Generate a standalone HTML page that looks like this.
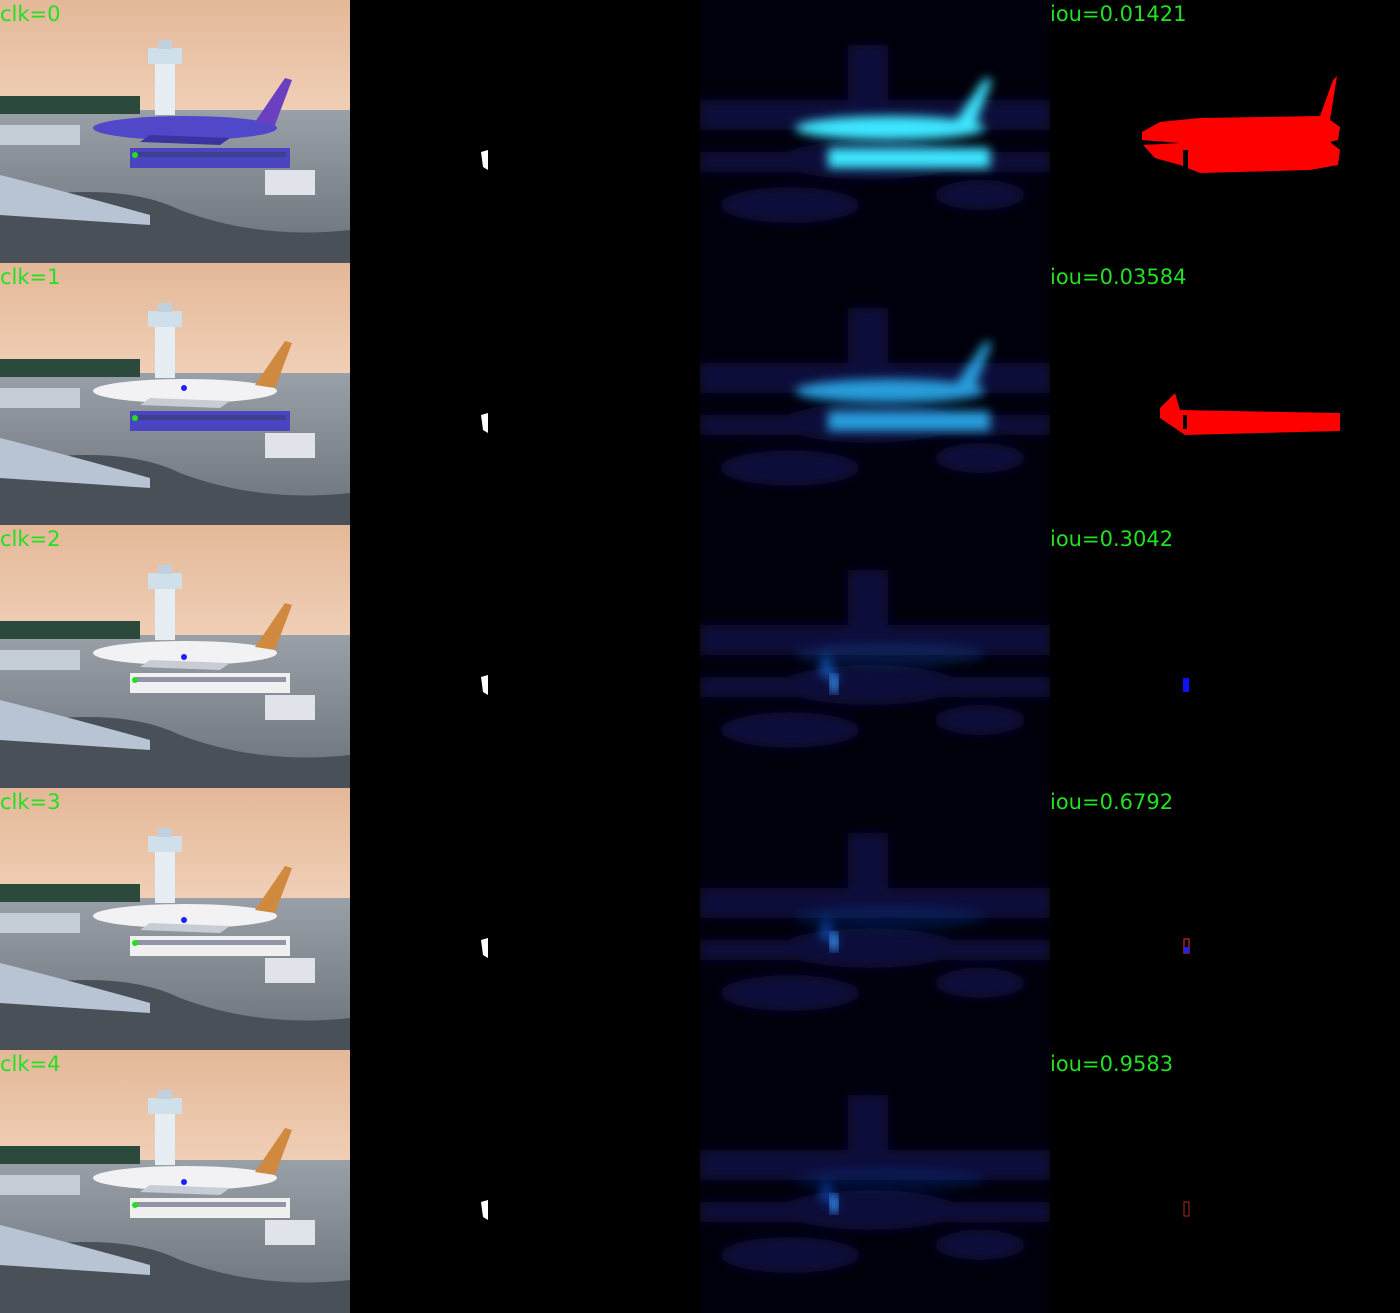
<!DOCTYPE html>
<html><head><meta charset="utf-8">
<style>
html,body{margin:0;padding:0;background:#000;width:1400px;height:1313px;overflow:hidden}
#grid{position:relative;width:1400px;height:1313px}
.row{position:absolute;left:0;width:1400px;height:262.6px}
.cell{position:absolute;top:0;width:350px;height:262.6px;overflow:hidden}
.lbl{position:absolute;top:2px;font-family:"DejaVu Sans","Liberation Sans",sans-serif;font-size:21px;color:#22e022;line-height:24px}
</style></head>
<body>
<div id="grid"></div>
<script>
const clicks=["clk=0","clk=1","clk=2","clk=3","clk=4"];
const ious=["iou=0.01421","iou=0.03584","iou=0.3042","iou=0.6792","iou=0.9583"];
const glow=[1.0,0.75,0.4,0.3,0.25];
const planeColors=["#5048c8","#f2f2f4","#f2f2f4","#f2f2f4","#f2f2f4"];
const busColors=["#4a44c0","#4a44c0","#f0f0f0","#f0f0f0","#f0f0f0"];
const grid=document.getElementById('grid');
const rowH=1313/5;
function photo(i){
 const pc=planeColors[i], bc=busColors[i], tail=i==0?"#6a40c0":"#d08a40";
 return `<svg width="350" height="263" viewBox="0 0 350 263">
 <defs><linearGradient id="sky${i}" x1="0" y1="0" x2="0" y2="1"><stop offset="0" stop-color="#e4b898"/><stop offset="1" stop-color="#f0d0b8"/></linearGradient>
 <linearGradient id="gr${i}" x1="0" y1="0" x2="0" y2="1"><stop offset="0" stop-color="#9aa0a8"/><stop offset="1" stop-color="#6a7078"/></linearGradient></defs>
 <rect width="350" height="115" fill="url(#sky${i})"/>
 <rect y="110" width="350" height="153" fill="url(#gr${i})"/>
 <path d="M0 200 Q120 180 180 210 Q260 240 350 230 L350 263 L0 263Z" fill="#4a5058"/>
 <path d="M0 175 Q60 190 150 215 L150 225 L0 215Z" fill="#b8c4d4"/>
 <rect x="0" y="96" width="140" height="18" fill="#2c4a3c"/>
 <rect x="155" y="60" width="20" height="55" fill="#e6eef4"/>
 <rect x="148" y="48" width="34" height="16" fill="#d0e0ea"/>
 <rect x="158" y="40" width="14" height="9" fill="#c0d0dc"/>
 <ellipse cx="185" cy="128" rx="92" ry="12" fill="${pc}"/>
 <path d="M255 122 L285 78 L292 80 L275 125Z" fill="${tail}"/>
 <path d="M150 135 L230 138 L220 145 L140 142Z" fill="${i==0?'#3a34a0':'#c8ccd4'}"/>
 <rect x="130" y="148" width="160" height="20" fill="${bc}"/>
 <rect x="136" y="152" width="150" height="5" fill="#333a60" opacity="0.5"/>
 <rect x="265" y="170" width="50" height="25" fill="#e0e4ea"/>
 <rect x="0" y="125" width="80" height="20" fill="#c4ccd6"/>
 <circle cx="135" cy="155" r="3" fill="#20e020"/>
 ${i>0?'<circle cx="184" cy="'+(i==1?125:132)+'" r="3" fill="#2020ff"/>':''}
 </svg>`;
}
function heat(i){
 const g=glow[i];
 const c=`rgb(${Math.round(60*g)},${Math.round(60+170*g)},255)`;
 return `<svg width="350" height="263" viewBox="0 0 350 263">
 <defs><filter id="bl${i}"><feGaussianBlur stdDeviation="5"/></filter></defs>
 <rect width="350" height="263" fill="#00000a"/>
 <g fill="#08083a" filter="url(#bl${i})">
 <rect x="0" y="100" width="350" height="30"/><rect x="148" y="45" width="40" height="70"/>
 <ellipse cx="90" cy="205" rx="70" ry="18"/><ellipse cx="280" cy="195" rx="45" ry="15"/>
 <rect x="0" y="152" width="350" height="20"/><ellipse cx="170" cy="160" rx="90" ry="20"/></g>
 <g fill="${c}" filter="url(#bl${i})" opacity="${0.3+0.7*g}">
 ${i<2?'<ellipse cx="190" cy="128" rx="95" ry="12"/><path d="M255 122 L285 78 L292 80 L275 125Z"/><rect x="128" y="148" width="162" height="20"/>':
 '<ellipse cx="190" cy="130" rx="95" ry="12" opacity="0.3"/><path d="M118 148 L126 125 L140 160Z"/>'}
 </g>
 ${i>=2?'<rect x="130" y="'+(i==2?150:145)+'" width="8" height="18" fill="#40a0ff" filter="url(#bl'+i+')"/>':''}
 </svg>`;
}
function mask(i){
 let inner='';
 if(i==0) inner='<path d="M92 132 L110 122 L150 118 L270 116 L283 80 L287 76 L280 120 L290 127 L288 140 L280 142 L290 150 L288 165 L260 170 L150 173 L130 165 L105 158 L93 145 L130 143 L92 140Z" fill="#ff0000"/><rect x="133" y="150" width="5" height="18" fill="#000"/>';
 else if(i==1) inner='<path d="M110 145 L125 130 L130 147 L290 150 L290 168 L135 172 L110 155Z" fill="#ff0000"/><rect x="133" y="152" width="4" height="14" fill="#000"/>';
 else if(i==2) inner='<rect x="133" y="153" width="6" height="14" fill="#1010ff"/>';
 else if(i==3) inner='<rect x="134" y="151" width="5" height="14" fill="none" stroke="#a02020" stroke-width="1.5"/><rect x="134" y="159" width="5" height="6" fill="#2020ff"/>';
 else inner='<rect x="134" y="152" width="5" height="14" fill="none" stroke="#a03010" stroke-width="1"/>';
 return `<svg width="350" height="263" viewBox="0 0 350 263" style="position:absolute;left:0;top:0">${inner}</svg>`;
}
for(let i=0;i<clicks.length;i++){
 const r=document.createElement('div');
 r.className='row';r.style.top=(i*rowH)+'px';
 
 
 const c1=document.createElement('div');c1.className='cell';c1.style.left='0px';c1.innerHTML=photo(i)+'<div class="lbl" style="left:0">'+clicks[i]+'</div>';
 
 
 const c2=document.createElement('div');c2.className='cell';c2.style.left='350px';
 c2.innerHTML='<svg width="350" height="263"><path d="M131 152 L138 150 L138 170 L133 167Z" fill="#fff"/></svg>';
 
 
 const c3=document.createElement('div');c3.className='cell';c3.style.left='700px';c3.innerHTML=heat(i);
 
 
 const c4=document.createElement('div');c4.className='cell';c4.style.left='1050px';c4.innerHTML=mask(i)+'<div class="lbl" style="left:0">'+ious[i]+'</div>';
 
 
 r.append(c1,c2,c3,c4);grid.appendChild(r);
}
</script>
</body></html>
